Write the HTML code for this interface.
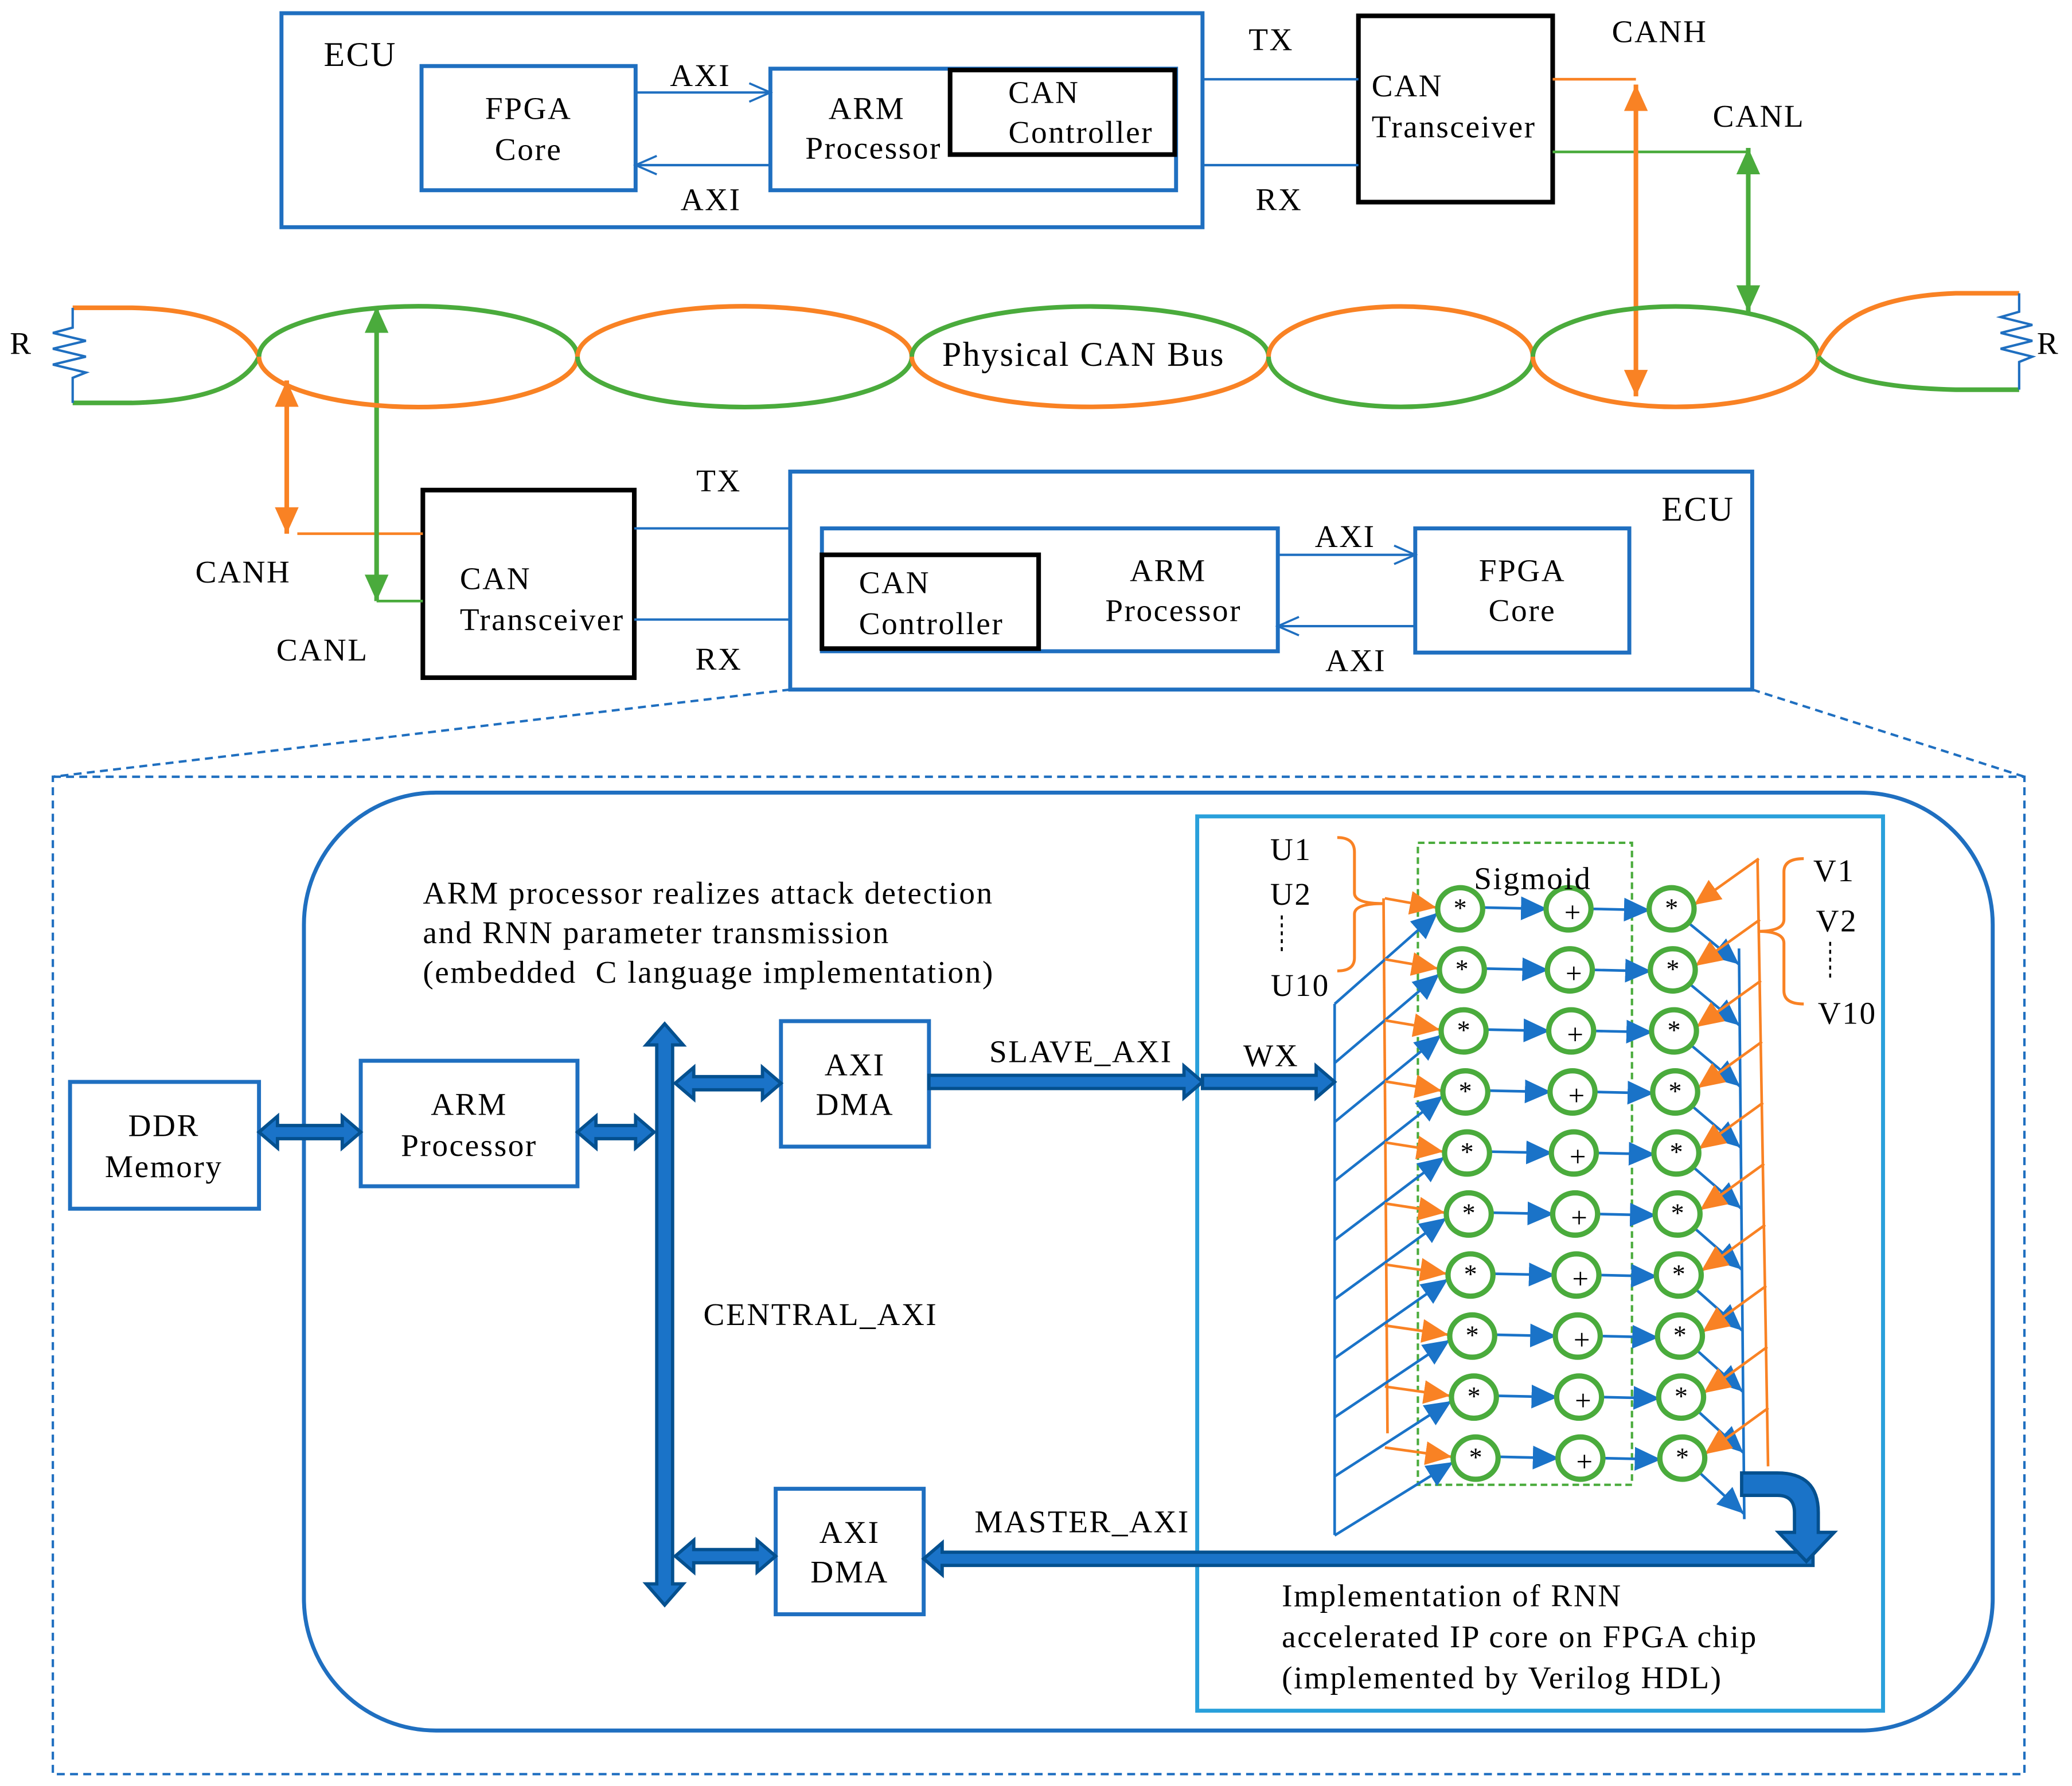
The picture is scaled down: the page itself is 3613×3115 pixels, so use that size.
<!DOCTYPE html>
<html><head><meta charset="utf-8"><style>
html,body{margin:0;padding:0;background:#fff}
svg{display:block}
text{font-family:"Liberation Serif",serif;fill:#000}
</style></head><body>
<svg id="s" width="3613" height="3115" viewBox="0 0 1568 1352" preserveAspectRatio="none" xmlns="http://www.w3.org/2000/svg">
<defs>
<marker id="mb" markerUnits="userSpaceOnUse" markerWidth="22" markerHeight="22" refX="20" refY="11" orient="auto"><path d="M0,2 L20,11 L0,20 Z" fill="#1a73c8"/></marker>
<marker id="mo" markerUnits="userSpaceOnUse" markerWidth="22" markerHeight="22" refX="20" refY="11" orient="auto-start-reverse"><path d="M0,2 L20,11 L0,20 Z" fill="#f98224"/></marker>
<marker id="mg" markerUnits="userSpaceOnUse" markerWidth="22" markerHeight="22" refX="20" refY="11" orient="auto-start-reverse"><path d="M0,2 L20,11 L0,20 Z" fill="#4aab3c"/></marker>
<marker id="mopen" markerUnits="userSpaceOnUse" markerWidth="20" markerHeight="20" refX="18" refY="10" orient="auto"><path d="M2,3 L18,10 L2,17" fill="none" stroke="#1f6fc0" stroke-width="1.6"/></marker>
</defs>
<g fill="none" stroke-width="3">
<rect x="213" y="10" width="697" height="162" stroke="#1f6fc0"/>
<rect x="319" y="50" width="162" height="94" stroke="#1f6fc0"/>
<rect x="583" y="52" width="307" height="92" stroke="#1f6fc0"/>
<rect x="719" y="53" width="170" height="64" stroke="#000" stroke-width="3.5"/>
<rect x="1028" y="12" width="147" height="141" stroke="#000" stroke-width="3.5"/>
<rect x="598" y="357" width="728" height="165" stroke="#1f6fc0"/>
<rect x="622" y="400" width="345" height="93" stroke="#1f6fc0"/>
<rect x="622" y="420" width="164" height="71" stroke="#000" stroke-width="3.5"/>
<rect x="1071" y="400" width="162" height="94" stroke="#1f6fc0"/>
<rect x="320" y="371" width="160" height="142" stroke="#000" stroke-width="3.5"/>
</g>
<g stroke="#1f6fc0" stroke-width="1.8" fill="none">
<line x1="481" y1="70" x2="583" y2="70" marker-end="url(#mopen)"/>
<line x1="583" y1="125" x2="481" y2="125" marker-end="url(#mopen)"/>
<line x1="910" y1="60" x2="1028" y2="60"/>
<line x1="910" y1="125" x2="1028" y2="125"/>
<line x1="967" y1="420" x2="1071" y2="420" marker-end="url(#mopen)"/>
<line x1="1071" y1="474" x2="967" y2="474" marker-end="url(#mopen)"/>
<line x1="480" y1="400" x2="598" y2="400"/>
<line x1="480" y1="469" x2="598" y2="469"/>
</g>
<g stroke-width="2" fill="none">
<line x1="1175" y1="60" x2="1238" y2="60" stroke="#f98224"/>
<line x1="1175" y1="115" x2="1323" y2="115" stroke="#4aab3c"/>
<line x1="225" y1="404" x2="320" y2="404" stroke="#f98224"/>
<line x1="285" y1="455" x2="320" y2="455" stroke="#4aab3c"/>
</g>
<g stroke-width="3.5" fill="none">
<line x1="1238" y1="64" x2="1238" y2="300" stroke="#f98224" marker-start="url(#mo)" marker-end="url(#mo)"/>
<line x1="1323" y1="112" x2="1323" y2="236" stroke="#4aab3c" marker-start="url(#mg)" marker-end="url(#mg)"/>
<line x1="217" y1="288" x2="217" y2="404" stroke="#f98224" marker-start="url(#mo)" marker-end="url(#mo)"/>
<line x1="285" y1="232" x2="285" y2="455" stroke="#4aab3c" marker-start="url(#mg)" marker-end="url(#mg)"/>
</g>
<g fill="none" stroke-width="3.5">
<path d="M55,233 L100,233 Q180,235 196,270" stroke="#f98224"/>
<path d="M55,305 L100,305 Q180,303 196,270" stroke="#4aab3c"/>
<path d="M196,270 A120,38 0 0 1 437,270" stroke="#4aab3c"/>
<path d="M196,270 A120,38 0 0 0 437,270" stroke="#f98224"/>
<path d="M437,270 A126,38 0 0 1 690,270" stroke="#f98224"/>
<path d="M437,270 A126,38 0 0 0 690,270" stroke="#4aab3c"/>
<path d="M690,270 A135,38 0 0 1 960,270" stroke="#4aab3c"/>
<path d="M690,270 A135,38 0 0 0 960,270" stroke="#f98224"/>
<path d="M960,270 A100,38 0 0 1 1160,270" stroke="#f98224"/>
<path d="M960,270 A100,38 0 0 0 1160,270" stroke="#4aab3c"/>
<path d="M1160,270 A108,38 0 0 1 1376,270" stroke="#4aab3c"/>
<path d="M1160,270 A108,38 0 0 0 1376,270" stroke="#f98224"/>
<path d="M1376,270 Q1395,225 1480,222 L1528,222" stroke="#f98224"/>
<path d="M1376,270 Q1395,293 1480,295 L1528,295" stroke="#4aab3c"/>
</g>
<g fill="none" stroke="#1f6fc0" stroke-width="1.8">
<path d="M55,233 L55,248 L40,252 L65,258 L40,264 L65,270 L40,276 L65,282 L55,286 L55,305"/>
<path d="M1528,222 L1528,236 L1514,240 L1538,246 L1514,252 L1538,258 L1514,264 L1538,270 L1528,274 L1528,295"/>
</g>
<g stroke="#1f6fc0" stroke-width="1.8" fill="none" stroke-dasharray="6,4">
<line x1="598" y1="522" x2="40" y2="588"/>
<line x1="1326" y1="522" x2="1532" y2="588"/>
<rect x="40" y="588" width="1492" height="755"/>
</g>
<rect x="230" y="600" width="1278" height="710" rx="100" fill="none" stroke="#1f6fc0" stroke-width="3"/>
<rect x="906" y="618" width="519" height="677" fill="none" stroke="#29a0db" stroke-width="3"/>
<g fill="none" stroke="#1f6fc0" stroke-width="3">
<rect x="53" y="819" width="143" height="96"/>
<rect x="273" y="803" width="164" height="95"/>
<rect x="591" y="773" width="112" height="95"/>
<rect x="587" y="1127" width="112" height="95"/>
</g>
<rect x="1073" y="638" width="162" height="486" fill="none" stroke="#4aab3c" stroke-width="1.8" stroke-dasharray="5,3"/>
<g id="grid"></g>
<g id="thick" fill="#1a73c8" stroke="#04508f" stroke-width="2.5"></g>
<path d="M1318,1115 L1345,1115 Q1376,1115 1376,1145 L1376,1160 L1388,1160 L1367,1182 L1346,1160 L1358,1160 L1358,1145 Q1358,1132 1345,1132 L1318,1132 Z" fill="#1a73c8" stroke="#04508f" stroke-width="2.5"/>
<g font-size="24" letter-spacing="1.1">
<text x="245" y="50" font-size="26">ECU</text>
<text x="400" y="90" text-anchor="middle">FPGA</text>
<text x="400" y="121" text-anchor="middle">Core</text>
<text x="530" y="65" text-anchor="middle">AXI</text>
<text x="538" y="159" text-anchor="middle">AXI</text>
<text x="656" y="90" text-anchor="middle">ARM</text>
<text x="661" y="120" text-anchor="middle">Processor</text>
<text x="790" y="78" text-anchor="middle">CAN</text>
<text x="818" y="108" text-anchor="middle">Controller</text>
<text x="962" y="38" text-anchor="middle">TX</text>
<text x="968" y="159" text-anchor="middle">RX</text>
<text x="1038" y="73">CAN</text>
<text x="1038" y="104">Transceiver</text>
<text x="1256" y="32" text-anchor="middle">CANH</text>
<text x="1331" y="96" text-anchor="middle">CANL</text>
<text x="16" y="268" text-anchor="middle">R</text>
<text x="1550" y="268" text-anchor="middle">R</text>
<text x="820" y="277" text-anchor="middle" font-size="26">Physical CAN Bus</text>
<text x="544" y="372" text-anchor="middle">TX</text>
<text x="544" y="507" text-anchor="middle">RX</text>
<text x="1285" y="394" text-anchor="middle" font-size="26">ECU</text>
<text x="184" y="441" text-anchor="middle">CANH</text>
<text x="244" y="500" text-anchor="middle">CANL</text>
<text x="348" y="446">CAN</text>
<text x="348" y="477">Transceiver</text>
<text x="650" y="449">CAN</text>
<text x="650" y="480">Controller</text>
<text x="884" y="440" text-anchor="middle">ARM</text>
<text x="888" y="470" text-anchor="middle">Processor</text>
<text x="1018" y="414" text-anchor="middle">AXI</text>
<text x="1026" y="508" text-anchor="middle">AXI</text>
<text x="1152" y="440" text-anchor="middle">FPGA</text>
<text x="1152" y="470" text-anchor="middle">Core</text>
<text x="320" y="684">ARM processor realizes attack detection</text>
<text x="320" y="714">and RNN parameter transmission</text>
<text x="320" y="744">(embedded&#160; C language implementation)</text>
<text x="124" y="860" text-anchor="middle">DDR</text>
<text x="124" y="891" text-anchor="middle">Memory</text>
<text x="355" y="844" text-anchor="middle">ARM</text>
<text x="355" y="875" text-anchor="middle">Processor</text>
<text x="647" y="814" text-anchor="middle">AXI</text>
<text x="647" y="844" text-anchor="middle">DMA</text>
<text x="643" y="1168" text-anchor="middle">AXI</text>
<text x="643" y="1198" text-anchor="middle">DMA</text>
<text x="818" y="804" text-anchor="middle">SLAVE_AXI</text>
<text x="962" y="807" text-anchor="middle">WX</text>
<text x="621" y="1003" text-anchor="middle">CENTRAL_AXI</text>
<text x="819" y="1160" text-anchor="middle">MASTER_AXI</text>
<text x="970" y="1216">Implementation of RNN</text>
<text x="970" y="1247">accelerated IP core on FPGA chip</text>
<text x="970" y="1278">(implemented by Verilog HDL)</text>
<text x="1160" y="673" text-anchor="middle">Sigmoid</text>
<text x="977" y="651" text-anchor="middle">U1</text>
<text x="977" y="685" text-anchor="middle">U2</text>
<text x="984" y="754" text-anchor="middle">U10</text>
<text x="1388" y="667" text-anchor="middle">V1</text>
<text x="1390" y="705" text-anchor="middle">V2</text>
<text x="1398" y="775" text-anchor="middle">V10</text>
</g>
<g stroke="#000" stroke-width="1.5" stroke-dasharray="3,3"><line x1="970" y1="693" x2="970" y2="720"/><line x1="1385" y1="713" x2="1385" y2="742"/></g>
<g fill="none" stroke="#f98224" stroke-width="2.2">
<path d="M1012,634 Q1025,634 1025,645 L1025,676 Q1025,684 1047,684 Q1025,684 1025,692 L1025,725 Q1025,735 1012,735"/>
<path d="M1365,650 Q1350,650 1350,660 L1350,696 Q1350,705 1330,705 Q1350,705 1350,714 L1350,750 Q1350,760 1365,760"/>
</g>
<script>
(function(){
var NS="http://www.w3.org/2000/svg";
var g=document.getElementById("grid"), t=document.getElementById("thick");
function el(p,n,a,txt){var e=document.createElementNS(NS,n);for(var k in a)e.setAttribute(k,a[k]);if(txt)e.textContent=txt;p.appendChild(e);return e;}
function ln(x1,y1,x2,y2,c,m,w){el(g,"line",{x1:x1,y1:y1,x2:x2,y2:y2,stroke:c,"stroke-width":w||2,"marker-end":m?"url(#"+m+")":""});}
ln(1010,760,1010,1162,"#1a73c8");
ln(1047,680,1050,1085,"#f98224");
ln(1330,650,1338,1110,"#f98224");
ln(1316,718,1320,1150,"#1a73c8");
for(var i=0;i<10;i++){
 var y=688+i*46.2,c1=1105+i*1.3,c2=1187+i*1,c3=1265+i*0.9;
 ln(c1+17,y-1,c2-16,y,"#1a73c8","mb");
 ln(c2+17,y,c3-16,y+1,"#1a73c8","mb");
 ln(1010,760+i*44.7,c1-17,y+3,"#1a73c8","mb");
 ln(1048,y-8,c1-18,y-1,"#f98224","mo");
 ln(1331+i*0.8,y-38,c3+17,y-3,"#f98224","mo");
 ln(c3+12,y+10,1316+i*0.4,y+42,"#1a73c8","mb");
 [[c1,"*",6],[c2,"+",10],[c3,"*",6]].forEach(function(c){
  el(g,"ellipse",{cx:c[0],cy:y,rx:17,ry:16,fill:"#fff",stroke:"#4aab3c","stroke-width":4});
  el(g,"text",{x:c[0]+(c[1]=="+"?3:0),y:y+c[2],"text-anchor":"middle","font-size":c[1]=="+"?22:20},c[1]);
 });
}
function harrow(x1,x2,y,L,R,h){h=h||5;var H=h+7,hl=14;var p=[];
 var a=L?x1+hl:x1,b=R?x2-hl:x2;
 p.push([a,y-h],[b,y-h]);if(R)p.push([b,y-H],[x2,y],[b,y+H]);p.push([b,y+h],[a,y+h]);if(L)p.push([a,y+H],[x1,y],[a,y-H]);
 el(t,"polygon",{points:p.map(function(q){return q.join(",")}).join(" ")});}
function varrow(x,y1,y2){var h=6,H=14,hl=16;var p=[[x-h,y1+hl],[x-H,y1+hl],[x,y1],[x+H,y1+hl],[x+h,y1+hl],[x+h,y2-hl],[x+H,y2-hl],[x,y2],[x-H,y2-hl],[x-h,y2-hl]];
 el(t,"polygon",{points:p.map(function(q){return q.join(",")}).join(" ")});}
varrow(503,775,1215);
harrow(196,273,857,1,1);
harrow(437,495,857,1,1);
harrow(511,591,820,1,1);
harrow(511,587,1178,1,1);
harrow(703,910,819,0,1);
harrow(910,1010,819,0,1);
harrow(699,1372,1180,1,0);
})();
</script>
</svg>
</body></html>
